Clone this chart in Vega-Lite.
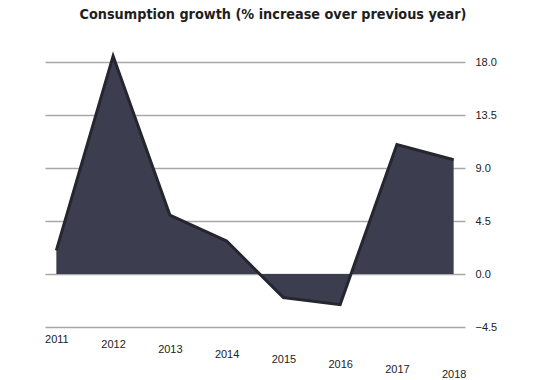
{
  "$schema": "https://vega.github.io/schema/vega-lite/v6.json",
  "autosize": {"type": "none"},
  "width": 420,
  "height": 265,
  "padding": {"left": 45, "top": 62, "right": 75, "bottom": 53},
  "background": "#ffffff",
  "title": {
    "text": "Consumption growth (% increase over previous year)",
    "anchor": "middle",
    "font": "DejaVu Sans Condensed",
    "fontWeight": "bold",
    "fontSize": 14.3,
    "color": "#1e1e1e",
    "offset": 28,
    "dx": 18
  },
  "data": {
    "values": [
      {"year": "2011", "growth": 2.0},
      {"year": "2012", "growth": 18.5},
      {"year": "2013", "growth": 5.0},
      {"year": "2014", "growth": 2.8},
      {"year": "2015", "growth": -2.0},
      {"year": "2016", "growth": -2.6},
      {"year": "2017", "growth": 11.0},
      {"year": "2018", "growth": 9.7}
    ]
  },
  "encoding": {
    "x": {
      "field": "year",
      "type": "ordinal",
      "scale": {"type": "point", "padding": 0.2},
      "axis": {
        "title": null,
        "labelAngle": 0,
        "domain": false,
        "ticks": false,
        "labelFont": "Liberation Sans",
        "labelFontSize": 11,
        "labelColor": "#222",
        "labelPadding": {"expr": "6 + (toNumber(datum.value) - 2011) * 5"}
      }
    },
    "y": {
      "field": "growth",
      "type": "quantitative",
      "scale": {"domain": [-4.5, 18], "nice": false, "zero": false},
      "axis": {
        "orient": "right",
        "title": null,
        "values": [-4.5, 0, 4.5, 9, 13.5, 18],
        "format": ".1f",
        "domain": false,
        "ticks": false,
        "grid": true,
        "gridColor": "#a8a8a8",
        "gridWidth": 1.5,
        "labelFont": "Liberation Sans",
        "labelFontSize": 11,
        "labelColor": "#222",
        "labelPadding": 10
      }
    }
  },
  "layer": [
    {"mark": {"type": "area", "color": "#3c3e50", "opacity": 1}},
    {"mark": {"type": "line", "color": "#25262f", "strokeWidth": 3}}
  ],
  "config": {"view": {"stroke": null}}
}
